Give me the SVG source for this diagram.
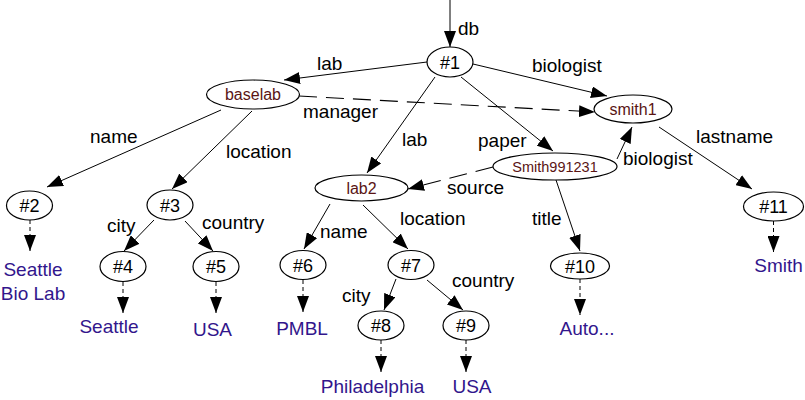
<svg xmlns="http://www.w3.org/2000/svg" width="805" height="400" viewBox="0 0 805 400">
<style>
.n{fill:#fff;stroke:#000;stroke-width:1.2}
.t{font-family:"Liberation Sans",Arial,sans-serif;font-size:18px;fill:#000;text-anchor:middle}
.o{font-family:"Liberation Sans",Arial,sans-serif;font-size:16px;fill:#5a1414;text-anchor:middle}
.l{font-family:"Liberation Sans",Arial,sans-serif;font-size:19px;fill:#000}
.v{font-family:"Liberation Sans",Arial,sans-serif;font-size:19px;fill:#32168c;text-anchor:middle}
.e{stroke:#000;stroke-width:1;fill:none;marker-end:url(#ah)}
.d{stroke:#000;stroke-width:1.1;fill:none;stroke-dasharray:18,9;marker-end:url(#ah)}
.s{stroke:#000;stroke-width:1;fill:none;stroke-dasharray:4,3;marker-end:url(#ah)}
</style>
<defs>
<marker id="ah" markerUnits="userSpaceOnUse" markerWidth="16" markerHeight="12" refX="16" refY="6" orient="auto">
<path d="M0,0 L16,6 L0,12 z" fill="#000"/>
</marker>
</defs>
<g id="connectors">
<line class="e" x1="450" y1="0" x2="450" y2="47"/>
<line class="e" x1="427" y1="62" x2="284" y2="80"/>
<line class="e" x1="473" y1="64" x2="607" y2="96"/>
<line class="e" x1="435" y1="77" x2="367" y2="173"/>
<line class="e" x1="461" y1="77" x2="553" y2="151"/>
<line class="d" x1="299" y1="96" x2="595" y2="112"/>
<line class="e" x1="221" y1="110" x2="47" y2="187"/>
<line class="e" x1="252" y1="111" x2="172" y2="189"/>
<line class="e" x1="617" y1="159" x2="632" y2="127"/>
<line class="e" x1="659" y1="127" x2="752" y2="189"/>
<line class="d" x1="493" y1="167" x2="408" y2="189"/>
<line class="e" x1="556" y1="180" x2="580" y2="251"/>
<line class="e" x1="330" y1="204" x2="304" y2="249"/>
<line class="e" x1="363" y1="205" x2="408" y2="249"/>
<line class="e" x1="154" y1="220" x2="124" y2="251"/>
<line class="e" x1="185" y1="221" x2="213" y2="251"/>
<line class="e" x1="396" y1="279" x2="384" y2="310"/>
<line class="e" x1="427" y1="280" x2="463" y2="310"/>
<line class="s" x1="30" y1="220" x2="30" y2="251"/>
<line class="s" x1="123" y1="282" x2="123" y2="313"/>
<line class="s" x1="216" y1="282" x2="216" y2="313"/>
<line class="s" x1="303" y1="280" x2="303" y2="312"/>
<line class="s" x1="381" y1="340" x2="381" y2="372"/>
<line class="s" x1="466" y1="340" x2="466" y2="372"/>
<line class="s" x1="580" y1="279" x2="580" y2="315"/>
<line class="s" x1="773.5" y1="221" x2="773.5" y2="252"/>
</g>
<g id="edge-labels">
<text class="l" x="458" y="35">db</text>
<text class="l" x="317" y="70">lab</text>
<text class="l" x="532" y="72">biologist</text>
<text class="l" x="303" y="118">manager</text>
<text class="l" x="90" y="143">name</text>
<text class="l" x="226" y="158">location</text>
<text class="l" x="402" y="146">lab</text>
<text class="l" x="478" y="147">paper</text>
<text class="l" x="696" y="143">lastname</text>
<text class="l" x="623" y="165">biologist</text>
<text class="l" x="447" y="194">source</text>
<text class="l" x="107" y="232">city</text>
<text class="l" x="202" y="229">country</text>
<text class="l" x="320" y="238">name</text>
<text class="l" x="400" y="225">location</text>
<text class="l" x="532" y="225">title</text>
<text class="l" x="342" y="302">city</text>
<text class="l" x="452" y="287">country</text>
</g>
<g id="n1"><ellipse class="n" cx="450" cy="62" rx="23" ry="15"/><text class="t" x="450" y="68.5">#1</text></g>
<g id="baselab"><ellipse class="n" cx="253" cy="94.5" rx="46.5" ry="14.5"/><text class="o" x="253" y="100">baselab</text></g>
<g id="smith1"><ellipse class="n" cx="633" cy="109" rx="39" ry="14"/><text class="o" x="633" y="114.5">smith1</text></g>
<g id="Smith991231"><ellipse class="n" cx="555" cy="166.5" rx="62" ry="13.5"/><text class="o" x="555" y="171.5" style="font-size:14.5px">Smith991231</text></g>
<g id="lab2"><ellipse class="n" cx="361.5" cy="188" rx="46.5" ry="13"/><text class="o" x="361.5" y="193.5">lab2</text></g>
<g id="n2"><ellipse class="n" cx="29.5" cy="205.5" rx="23" ry="14.5"/><text class="t" x="29.5" y="212">#2</text></g>
<g id="n3"><ellipse class="n" cx="170" cy="205" rx="23" ry="15"/><text class="t" x="170" y="211.5">#3</text></g>
<g id="n4"><ellipse class="n" cx="123" cy="266.5" rx="23" ry="15"/><text class="t" x="123" y="273">#4</text></g>
<g id="n5"><ellipse class="n" cx="216" cy="266.5" rx="23" ry="15"/><text class="t" x="216" y="273">#5</text></g>
<g id="n6"><ellipse class="n" cx="303" cy="265" rx="23" ry="14.5"/><text class="t" x="303" y="271.5">#6</text></g>
<g id="n7"><ellipse class="n" cx="411" cy="265" rx="23" ry="14.5"/><text class="t" x="411" y="271.5">#7</text></g>
<g id="n8"><ellipse class="n" cx="381" cy="325.5" rx="23" ry="14.5"/><text class="t" x="381" y="332">#8</text></g>
<g id="n9"><ellipse class="n" cx="466" cy="325.5" rx="23" ry="14.5"/><text class="t" x="466" y="332">#9</text></g>
<g id="n10"><ellipse class="n" cx="580" cy="266" rx="29.5" ry="13"/><text class="t" x="580" y="272.5">#10</text></g>
<g id="n11"><ellipse class="n" cx="773.5" cy="206.5" rx="30" ry="14.5"/><text class="t" x="773.5" y="213">#11</text></g>
<g id="v2"><text class="v" x="33" y="276">Seattle</text><text class="v" x="33" y="300">Bio Lab</text></g>
<g id="v4"><text class="v" x="109" y="333">Seattle</text></g>
<g id="v5"><text class="v" x="212.5" y="336">USA</text></g>
<g id="v6"><text class="v" x="302" y="335">PMBL</text></g>
<g id="v8"><text class="v" x="372.5" y="393">Philadelphia</text></g>
<g id="v9"><text class="v" x="472" y="393">USA</text></g>
<g id="v10"><text class="v" x="587" y="335">Auto...</text></g>
<g id="v11"><text class="v" x="778.5" y="272">Smith</text></g>
</svg>
